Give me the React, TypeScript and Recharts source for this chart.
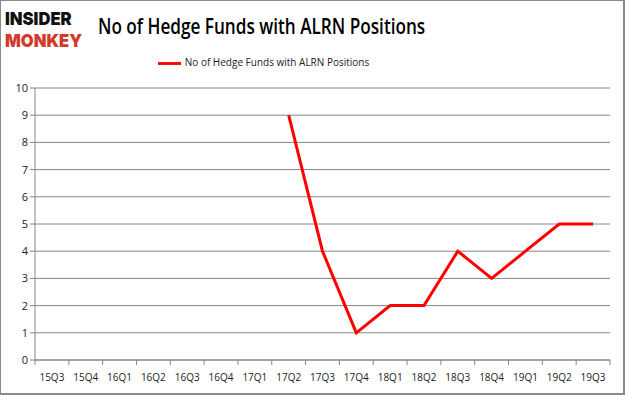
import { LineChart, Line, XAxis, YAxis, CartesianGrid, Legend } from 'recharts'

const quarters = [
  '15Q3', '15Q4', '16Q1', '16Q2', '16Q3', '16Q4', '17Q1', '17Q2', '17Q3',
  '17Q4', '18Q1', '18Q2', '18Q3', '18Q4', '19Q1', '19Q2', '19Q3',
]
const funds: (number | null)[] = [
  null, null, null, null, null, null, null, 9, 4, 1, 2, 2, 4, 3, 4, 5, 5,
]
const yTicks = [0, 1, 2, 3, 4, 5, 6, 7, 8, 9, 10]

const seriesName = 'No of Hedge Funds with ALRN Positions'

const data = quarters.map((q, i) => ({ q, funds: funds[i] }))

const W = 625
const H = 395
const LEFT = 35
const RIGHT = 15
const BAND = (W - LEFT - RIGHT) / quarters.length
const LEGEND_H = 20

// Excel style: tick marks sit between categories
function QuarterTick(props: any) {
  const { x, y, payload, index } = props
  const last = index === quarters.length - 1
  return (
    <g>
      <line x1={x - BAND / 2} x2={x - BAND / 2} y1={y - 8} y2={y - 3} stroke="#868686" />
      {last && <line x1={x + BAND / 2} x2={x + BAND / 2} y1={y - 8} y2={y - 3} stroke="#868686" />}
      <text x={x} y={y + 13} textAnchor="middle" fontSize={10} fill="#222" fontFamily="'Open Sans', sans-serif">
        {payload.value}
      </text>
    </g>
  )
}

export default function App() {
  return (
    <div
      style={{
        position: 'fixed',
        left: 0,
        top: 0,
        width: W,
        height: H,
        background: '#fff',
        boxSizing: 'border-box',
        border: '1px solid #8a8a8a',
        borderRightWidth: 2,
        borderBottomWidth: 2,
        fontFamily: "'Open Sans', sans-serif",
      }}
    >
      <div
        style={{
          position: 'absolute',
          left: 4,
          top: 7,
          lineHeight: '22px',
          fontFamily: 'Inter, sans-serif',
          fontWeight: 900,
          fontSize: 18,
          transform: 'scaleX(0.92)',
          transformOrigin: 'left top',
          zIndex: 2,
        }}
      >
        <div style={{ color: '#111' }}>INSIDER</div>
        <div style={{ color: '#d23a2a' }}>MONKEY</div>
      </div>
      <div
        style={{
          position: 'absolute',
          left: 97,
          top: 9,
          fontSize: 22,
          fontWeight: 600,
          color: '#000',
          whiteSpace: 'nowrap',
          transform: 'scaleX(0.78)',
          transformOrigin: 'left top',
          zIndex: 2,
        }}
      >
        No of Hedge Funds with ALRN Positions
      </div>
      <div style={{ position: 'absolute', left: -1, top: -1 }}>
        <LineChart width={W} height={H} data={data} margin={{ top: 88 - LEGEND_H, right: RIGHT, left: 0, bottom: 0 }}>
          <CartesianGrid vertical={false} stroke="#868686" strokeWidth={1} />
          <XAxis
            dataKey="q"
            height={35}
            padding={{ left: BAND / 2, right: BAND / 2 }}
            axisLine={{ stroke: '#868686' }}
            tickLine={false}
            interval={0}
            tick={<QuarterTick />}
          />
          <YAxis
            width={LEFT}
            domain={[0, 10]}
            ticks={yTicks}
            interval={0}
            axisLine={{ stroke: '#868686' }}
            tickLine={{ stroke: '#868686' }}
            tickSize={5}
            tick={{ fontSize: 11, fill: '#222', fontFamily: "'Open Sans', sans-serif" }}
          />
          <Legend
            verticalAlign="top"
            align="center"
            iconType="plainline"
            iconSize={23}
            height={LEGEND_H}
            wrapperStyle={{ top: 52, left: -44, width: W, fontSize: 10 }}
            formatter={(v: string) => <span style={{ color: '#222' }}>{v}</span>}
          />
          <Line
            name={seriesName}
            dataKey="funds"
            stroke="#ff0000"
            strokeWidth={3}
            dot={false}
            legendType="plainline"
            isAnimationActive={false}
          />
        </LineChart>
      </div>
    </div>
  )
}
